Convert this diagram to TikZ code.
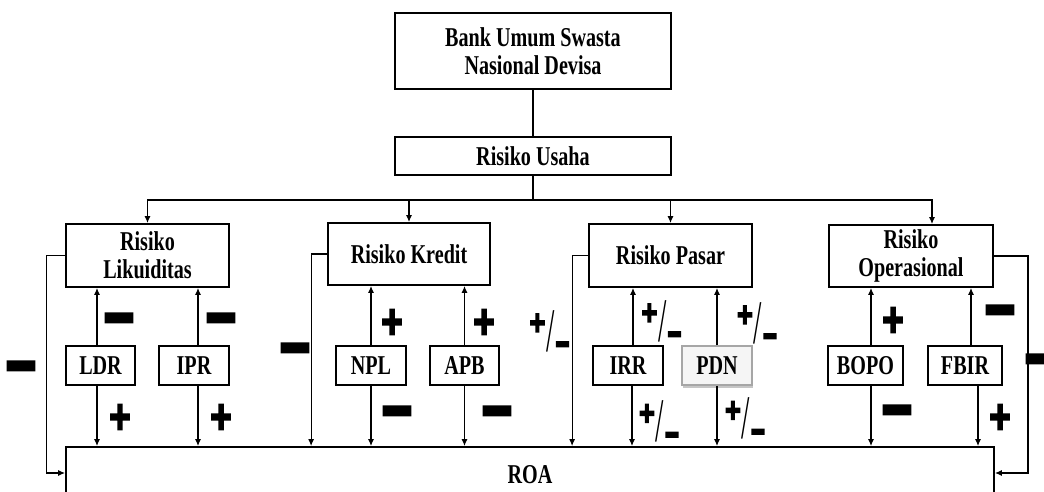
\documentclass[tikz,border=0pt]{standalone}
\usepackage{graphicx}
\usepackage{fontspec}
\setmainfont{Liberation Serif}
\newfontfamily\boxfont{Liberation Serif}[FakeStretch=0.74]
\newfontfamily\signfont[FakeBold=8]{DejaVu Sans Bold}
\usetikzlibrary{arrows.meta,shadows}

\newcommand{\sgplus}{{\signfont\fontsize{14}{14}\selectfont\scalebox{1}[1.35]{+}}}
\newcommand{\sgminus}{{\signfont\fontsize{14}{14}\selectfont\scalebox{1.45}[2]{\char"2212}}}
\newcommand{\sgpm}{{\signfont
  \raisebox{10pt}{\fontsize{10.5}{10.5}\selectfont\scalebox{1}[1.3]{+}}%
  {\normalfont\fontsize{20}{20}\selectfont\scalebox{0.75}[1.55]{/}}%
  \raisebox{-1.5pt}{\fontsize{9}{9}\selectfont\scalebox{1.05}[1.8]{\char"2212}}}}

\begin{document}
\begin{tikzpicture}[x=0.5pt,y=-0.5pt,
  box/.style={draw,line width=0.9pt,align=center,inner sep=0pt,font=\boxfont\fontsize{13.6}{14}\selectfont\bfseries},
  arr/.style={line width=0.6pt,-{Latex[length=3.5pt,width=3pt]}},
  sign/.style={inner sep=0pt}]
\useasboundingbox (0,0) rectangle (1044,492);

\node [box,minimum width=138pt,minimum height=38pt] (bank) at (533,51) {Bank Umum Swasta\\Nasional Devisa};
\node [box,minimum width=138pt,minimum height=19pt] (usaha) at (533,156) {Risiko Usaha};

\node [box,minimum width=81.5pt,minimum height=31.5pt] (liq) at (147.5,255.5) {Risiko\\Likuiditas};
\node [box,minimum width=81pt,minimum height=31pt] (kre) at (409,254) {Risiko Kredit};
\node [box,minimum width=81.5pt,minimum height=31.5pt] (pas) at (670.5,255.5) {Risiko Pasar};
\node [box,minimum width=82pt,minimum height=31pt] (ops) at (911,256) {Risiko\\Operasional};

\node [box,minimum width=34.5pt,minimum height=19.5pt] (ldr) at (100.5,365.5) {LDR};
\node [box,minimum width=35pt,minimum height=19.5pt] (ipr) at (194,365.5) {IPR};
\node [box,minimum width=35pt,minimum height=19.5pt] (npl) at (371,365.5) {NPL};
\node [box,minimum width=34.5pt,minimum height=19.5pt] (apb) at (464.5,365.5) {APB};
\node [box,minimum width=35pt,minimum height=19.5pt] (irr) at (628,365.5) {IRR};
\node [box,minimum width=35pt,minimum height=19.5pt,draw=gray!70,fill=gray!8,
  drop shadow={shadow xshift=0.6pt,shadow yshift=-1.6pt,opacity=0.45}] (pdn) at (717,365.5) {PDN};
\node [box,minimum width=37.5pt,minimum height=19.5pt] (bopo) at (865.5,365.5) {BOPO};
\node [box,minimum width=37pt,minimum height=19.5pt] (fbir) at (965,365.5) {FBIR};

\node [box,minimum width=464pt,minimum height=28pt] (roa) at (530,475) {ROA};

% top connectors
\coordinate (bus) at (533,200);
\draw [line width=0.6pt] (bank) -- (usaha);
\draw [line width=0.6pt] (usaha) -- (bus);
\draw [arr] (bus) -| (liq.north);
\draw [arr] (bus) -| (kre.north);
\draw [arr] (bus) -| (pas.north);
\draw [arr] (bus) -| ([xshift=10.5pt]ops.north);

% ratios to risks and to ROA
\draw [arr] ([xshift=-1.75pt]ldr.north) -- ([xshift=-1.75pt]ldr.north |- liq.south);
\draw [arr] ([xshift=-1.75pt]ldr.south) -- ([xshift=-1.75pt]ldr.south |- roa.north);
\draw [arr] ([xshift=2pt]ipr.north) -- ([xshift=2pt]ipr.north |- liq.south);
\draw [arr] ([xshift=2pt]ipr.south) -- ([xshift=2pt]ipr.south |- roa.north);
\draw [arr] (npl.north) -- (npl.north |- kre.south);
\draw [arr] (npl.south) -- (npl.south |- roa.north);
\draw [arr] (apb.north) -- (apb.north |- kre.south);
\draw [arr] (apb.south) -- (apb.south |- roa.north);
\draw [arr] ([xshift=2.5pt]irr.north) -- ([xshift=2.5pt]irr.north |- pas.south);
\draw [arr] ([xshift=2pt]irr.south) -- ([xshift=2pt]irr.south |- roa.north);
\draw [arr] (pdn.north) -- (pdn.north |- pas.south);
\draw [arr] (pdn.south) -- (pdn.south |- roa.north);
\draw [arr] ([xshift=2.75pt]bopo.north) -- ([xshift=2.75pt]bopo.north |- ops.south);
\draw [arr] ([xshift=2.75pt]bopo.south) -- ([xshift=2.75pt]bopo.south |- roa.north);
\draw [arr] ([xshift=3pt]fbir.north) -- ([xshift=3pt]fbir.north |- ops.south);
\draw [arr] ([xshift=6.5pt]fbir.south) -- ([xshift=6.5pt]fbir.south |- roa.north);

% risks straight to ROA
\draw [arr] (liq.west) -- ++(-19,0) |- ([yshift=1pt]roa.west);
\draw [arr] (kre.west) -- ++(-16,0) coordinate (kcorner) -- (kcorner |- roa.north);
\draw [arr] (pas.west) -- ++(-16,0) coordinate (pcorner) -- (pcorner |- roa.north);
\draw [arr] (ops.east) -- ++(34,0) |- ([yshift=1pt]roa.east);

% signs
\node [sign] (s-ldr-up) at (119,325) {\sgminus};
\node [sign] (s-ldr-dn) at (120,417) {\sgplus};
\node [sign] (s-ipr-up) at (221,325) {\sgminus};
\node [sign] (s-ipr-dn) at (221,417) {\sgplus};
\node [sign] (s-liq) at (21,373) {\sgminus};
\node [sign] (s-npl-up) at (392,322) {\sgplus};
\node [sign] (s-npl-dn) at (397,418) {\sgminus};
\node [sign] (s-apb-up) at (484,322) {\sgplus};
\node [sign] (s-apb-dn) at (497,418) {\sgminus};
\node [sign] (s-kre) at (295,355) {\sgminus};
\node [sign] (s-pas) at (549.5,332.5) {\sgpm};
\node [sign] (s-irr-up) at (661.5,322.5) {\sgpm};
\node [sign] (s-irr-dn) at (659,423) {\sgpm};
\node [sign] (s-pdn-up) at (757,324.5) {\sgpm};
\node [sign] (s-pdn-dn) at (745,420) {\sgpm};
\node [sign] (s-bopo-up) at (893,320) {\sgplus};
\node [sign] (s-bopo-dn) at (897,417) {\sgminus};
\node [sign] (s-fbir-up) at (1000,317) {\sgminus};
\node [sign] (s-fbir-dn) at (1000,417) {\sgplus};
\node [sign] (s-ops) at (1040,366) {\sgminus};
\end{tikzpicture}
\end{document}
